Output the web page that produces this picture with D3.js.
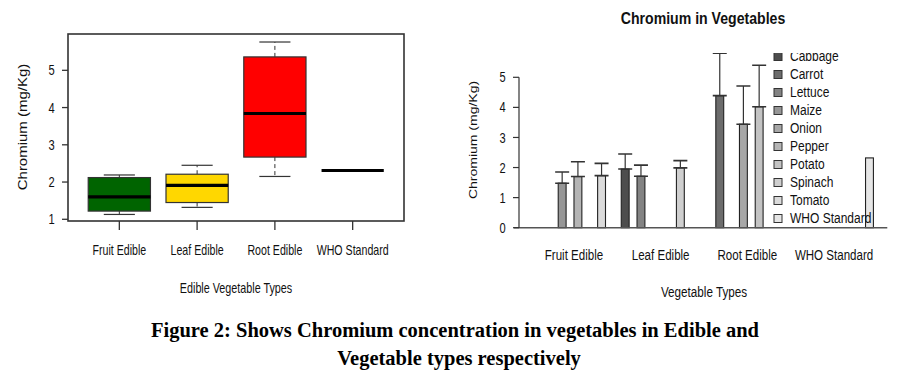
<!DOCTYPE html>
<html><head><meta charset="utf-8">
<script src="https://cdn.jsdelivr.net/npm/d3@7"></script>
<style>html,body{margin:0;padding:0;background:#fff;}svg{display:block;}</style>
</head><body>
<svg id="chart" width="900" height="380"></svg>
<script>
// ---------- DATA ----------
const categories = ["Fruit Edible", "Leaf Edible", "Root Edible", "WHO Standard"];
// Left: box plot statistics per edible type
const boxLow  = [1.13, 1.32, 2.15, 2.31];
const boxQ1   = [1.22, 1.45, 2.67, 2.31];
const boxMed  = [1.60, 1.91, 3.84, 2.31];
const boxQ3   = [2.12, 2.21, 5.36, 2.31];
const boxHigh = [2.19, 2.45, 5.76, 2.31];
const boxColors = ["#006400", "#FFD700", "#FF0000", "#FFFFFF"];
const leftTicks = [1, 2, 3, 4, 5];
// Right: grouped bars (mean) with upper error bars
const series = ["Cabbage", "Carrot", "Lettuce", "Maize", "Onion", "Pepper", "Potato", "Spinach", "Tomato", "WHO Standard"];
const seriesColors = ["#4D4D4D", "#6C6C6C", "#838383", "#969696", "#A7A7A7", "#B5B5B5", "#C3C3C3", "#CFCFCF", "#DBDBDB", "#E6E6E6"];
const cabbage = [null, 1.95, null, null];
const carrot  = [null, null, 4.39, null];
const lettuce = [null, 1.71, null, null];
const maize   = [1.48, null, null, null];
const onion   = [null, null, 3.44, null];
const pepper  = [1.70, null, null, null];
const potato  = [null, null, 4.02, null];
const spinach = [null, 1.99, null, null];
const tomato  = [1.73, null, null, null];
const who     = [null, null, null, 2.32];
const cabbageErr = [null, 2.45, null, null];
const carrotErr  = [null, null, 5.80, null];
const lettuceErr = [null, 2.08, null, null];
const maizeErr   = [1.85, null, null, null];
const onionErr   = [null, null, 4.71, null];
const pepperErr  = [2.19, null, null, null];
const potatoErr  = [null, null, 5.40, null];
const spinachErr = [null, 2.23, null, null];
const tomatoErr  = [2.14, null, null, null];
const whoErr     = [null, null, null, null];
const rightTicks = [0, 1, 2, 3, 4, 5];
const barValues = [cabbage, carrot, lettuce, maize, onion, pepper, potato, spinach, tomato, who];
const barErrors = [cabbageErr, carrotErr, lettuceErr, maizeErr, onionErr, pepperErr, potatoErr, spinachErr, tomatoErr, whoErr];

// ---------- HELPERS ----------
const svg = d3.select("#chart");
const SANS = "'Liberation Sans', Arial, sans-serif";
function txt(g, x, y, s, o = {}) {
  const t = g.append("text")
    .attr("transform", `translate(${x},${y}) scale(${o.sx ?? 0.82},1) rotate(${o.rot ?? 0})`)
    .attr("text-anchor", o.anchor || "middle")
    .attr("dominant-baseline", "central")
    .attr("font-family", o.family || SANS)
    .attr("font-size", o.size || 13)
    .attr("font-weight", o.weight || "normal")
    .attr("fill", o.fill || "#111")
    .text(s);
  return t;
}

// ---------- LEFT: BOX PLOT ----------
const L = { x0: 68, x1: 404, y0: 34, y1: 221 };
const gl = svg.append("g");
const xl = d3.scaleBand().domain(categories).range([L.x0, L.x1]).paddingInner(0).paddingOuter(0.16);
const yl = d3.scaleLinear().domain([0.954, 5.975]).range([L.y1, L.y0]);
const bw = xl.bandwidth() * 0.8;
const stroke = "#333";

categories.forEach((c, i) => {
  const cx = xl(c) + xl.bandwidth() / 2;
  // whiskers (dashed)
  gl.append("line").attr("x1", cx).attr("x2", cx).attr("y1", yl(boxQ3[i])).attr("y2", yl(boxHigh[i]))
    .attr("stroke", stroke).attr("stroke-width", 1).attr("stroke-dasharray", "4,3");
  gl.append("line").attr("x1", cx).attr("x2", cx).attr("y1", yl(boxQ1[i])).attr("y2", yl(boxLow[i]))
    .attr("stroke", stroke).attr("stroke-width", 1).attr("stroke-dasharray", "4,3");
  // caps
  [boxLow[i], boxHigh[i]].forEach(v => {
    gl.append("line").attr("x1", cx - bw / 4).attr("x2", cx + bw / 4).attr("y1", yl(v)).attr("y2", yl(v))
      .attr("stroke", stroke).attr("stroke-width", 1.2);
  });
  // box
  gl.append("rect").attr("x", cx - bw / 2).attr("width", bw)
    .attr("y", yl(boxQ3[i])).attr("height", Math.max(0, yl(boxQ1[i]) - yl(boxQ3[i])))
    .attr("fill", boxColors[i]).attr("stroke", stroke).attr("stroke-width", 1.2);
  // median
  gl.append("line").attr("x1", cx - bw / 2).attr("x2", cx + bw / 2).attr("y1", yl(boxMed[i])).attr("y2", yl(boxMed[i]))
    .attr("stroke", "#000").attr("stroke-width", 3.2);
  // x tick
  gl.append("line").attr("x1", cx).attr("x2", cx).attr("y1", L.y1).attr("y2", L.y1 + 9)
    .attr("stroke", stroke).attr("stroke-width", 1.3);
  txt(gl, cx, 250, c, { size: 14, sx: 0.76 });
});
// frame
gl.append("rect").attr("x", L.x0).attr("y", L.y0).attr("width", L.x1 - L.x0).attr("height", L.y1 - L.y0)
  .attr("fill", "none").attr("stroke", stroke).attr("stroke-width", 1.6);
// y ticks
leftTicks.forEach(t => {
  gl.append("line").attr("x1", L.x0 - 6).attr("x2", L.x0).attr("y1", yl(t)).attr("y2", yl(t))
    .attr("stroke", stroke).attr("stroke-width", 1.3);
  txt(gl, 51.7, yl(t), String(t), { size: 15.5, sx: 0.72 });
});
txt(gl, 23, 127, "Chromium (mg/Kg)", { size: 15, sx: 0.82, rot: -90 });
txt(gl, 236, 289, "Edible Vegetable Types", { size: 14, sx: 0.77 });

// ---------- RIGHT: GROUPED BAR CHART ----------
const w = 7.88;
const bx0 = 526.7;
const R = { x0: bx0 - 1.76 * w, x1: bx0 + 45.76 * w, yTop: 53, yBase: 227.7 };
const gr = svg.append("g");
svg.append("defs").append("clipPath").attr("id", "rclip")
  .append("rect").attr("x", R.x0 - 5).attr("y", R.yTop).attr("width", R.x1 - R.x0 + 10).attr("height", R.yBase - R.yTop + 5);
const xg = d3.scaleBand().domain(categories).range([bx0 + w, bx0 + 44 * w]).paddingInner(1 / 11).paddingOuter(0);
const xs = d3.scaleBand().domain(series).range([0, xg.bandwidth()]).padding(0);
const yr = d3.scaleLinear().domain([0, 5]).range([R.yBase, 77.3]);
const color = d3.scaleOrdinal().domain(series).range(seriesColors);

const plot = gr.append("g").attr("clip-path", "url(#rclip)");
series.forEach((s, si) => {
  categories.forEach((c, ci) => {
    const v = barValues[si][ci];
    if (v == null) return;
    const x = xg(c) + xs(s);
    plot.append("rect").attr("x", x).attr("width", xs.bandwidth())
      .attr("y", yr(v)).attr("height", yr(0) - yr(v))
      .attr("fill", color(s)).attr("stroke", "#222").attr("stroke-width", 1.1);
  });
});
series.forEach((s, si) => {
  categories.forEach((c, ci) => {
    const v = barValues[si][ci], e = barErrors[si][ci];
    if (v == null || e == null) return;
    const cx = xg(c) + xs(s) + xs.bandwidth() / 2;
    plot.append("line").attr("x1", cx).attr("x2", cx).attr("y1", yr(v)).attr("y2", yr(e))
      .attr("stroke", "#333").attr("stroke-width", 1.2);
    [v, e].forEach(val => {
      plot.append("line").attr("x1", cx - 7).attr("x2", cx + 7).attr("y1", yr(val)).attr("y2", yr(val))
        .attr("stroke", "#333").attr("stroke-width", 1.6);
    });
  });
});
// baseline
gr.append("line").attr("x1", R.x0 + 1).attr("x2", R.x1).attr("y1", yr(0)).attr("y2", yr(0))
  .attr("stroke", "#555").attr("stroke-width", 1.6);
// y axis
const yAxisX = 519;
gr.append("line").attr("x1", yAxisX).attr("x2", yAxisX).attr("y1", yr(0)).attr("y2", yr(5))
  .attr("stroke", "#333").attr("stroke-width", 1.2);
rightTicks.forEach(t => {
  gr.append("line").attr("x1", yAxisX - 6).attr("x2", yAxisX).attr("y1", yr(t)).attr("y2", yr(t))
    .attr("stroke", "#333").attr("stroke-width", 1.2);
  txt(gr, 502.5, yr(t), String(t), { size: 15, sx: 0.74 });
});
categories.forEach(c => {
  txt(gr, xg(c) + xg.bandwidth() / 2, 255, c, { size: 15, sx: 0.77 });
});
txt(gr, 704, 291.5, "Vegetable Types", { size: 15, sx: 0.78 });
txt(gr, 473, 140, "Chromium (mg/Kg)", { size: 14, sx: 0.82, rot: -90 });
txt(gr, 703, 18, "Chromium in Vegetables", { size: 17, sx: 0.83, weight: "bold" });

// legend
const leg = gr.append("g").attr("clip-path", "url(#rclip)");
series.forEach((s, i) => {
  const ly = 56.5 + 18 * i;
  leg.append("rect").attr("x", 774).attr("y", ly - 4).attr("width", 8).attr("height", 8)
    .attr("fill", color(s)).attr("stroke", "#333").attr("stroke-width", 1);
  txt(leg, 790, ly, s, { size: 15, sx: 0.8, anchor: "start" });
});

// ---------- CAPTION ----------
const SERIF = "'Liberation Serif', 'Times New Roman', serif";
txt(svg, 455, 330, "Figure 2: Shows Chromium concentration in vegetables in Edible and", { size: 20.5, sx: 1, weight: "bold", family: SERIF, fill: "#000" });
txt(svg, 459, 358, "Vegetable types respectively", { size: 20.5, sx: 1, weight: "bold", family: SERIF, fill: "#000" });
</script>
</body></html>
